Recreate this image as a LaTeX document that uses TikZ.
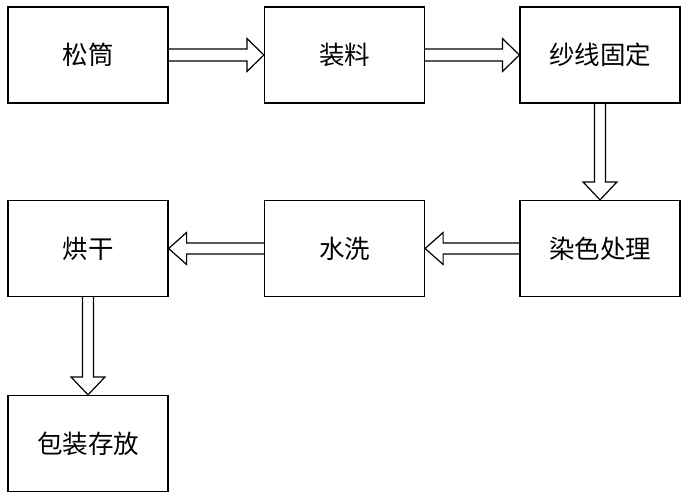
\documentclass[tikz,border=0pt]{standalone}
\usepackage{fontspec}
\newfontfamily\cjk{Noto Sans CJK SC}
\usetikzlibrary{calc}
\newcommand\rarrow[2]{\draw[fat] ($(#1.east)+(0,-6)$) -- ($(#2.west)+(-17,-6)$) -- ($(#2.west)+(-17,-16.5)$) -- (#2.west) -- ($(#2.west)+(-17,16.5)$) -- ($(#2.west)+(-17,6)$) -- ($(#1.east)+(0,6)$);}
\newcommand\larrow[2]{\draw[fat] ($(#1.west)+(0,-5.5)$) -- ($(#2.east)+(18,-5.5)$) -- ($(#2.east)+(18,-16)$) -- (#2.east) -- ($(#2.east)+(18,16)$) -- ($(#2.east)+(18,5.5)$) -- ($(#1.west)+(0,5.5)$);}
\newcommand\darrow[2]{\draw[fat] ($(#1.south)+(-5.5,0)$) -- ($(#2.north)+(-5.5,-18)$) -- ($(#2.north)+(-17,-18)$) -- (#2.north) -- ($(#2.north)+(17,-18)$) -- ($(#2.north)+(5.5,-18)$) -- ($(#1.south)+(5.5,0)$);}
\begin{document}
\begin{tikzpicture}[x=1pt,y=-1pt,
  box/.style={draw,line width=1.2pt,minimum width=160pt,minimum height=96pt,inner sep=0pt,font=\cjk\fontsize{25.5}{25.5}\selectfont},
  fat/.style={draw,line width=1.2pt,line join=miter}]
\useasboundingbox (0,0) rectangle (688,500);
\node[box] (a) at (88,55) {松筒};
\node[box] (b) at (344.5,55) {装料};
\node[box] (c) at (600,55) {纱线固定};
\node[box] (d) at (600,248.5) {染色处理};
\node[box] (e) at (344.5,248.5) {水洗};
\node[box] (f) at (88,248.5) {烘干};
\node[box] (g) at (88,443.5) {包装存放};
\rarrow{a}{b}
\rarrow{b}{c}
\darrow{c}{d}
\larrow{d}{e}
\larrow{e}{f}
\darrow{f}{g}
\end{tikzpicture}
\end{document}
